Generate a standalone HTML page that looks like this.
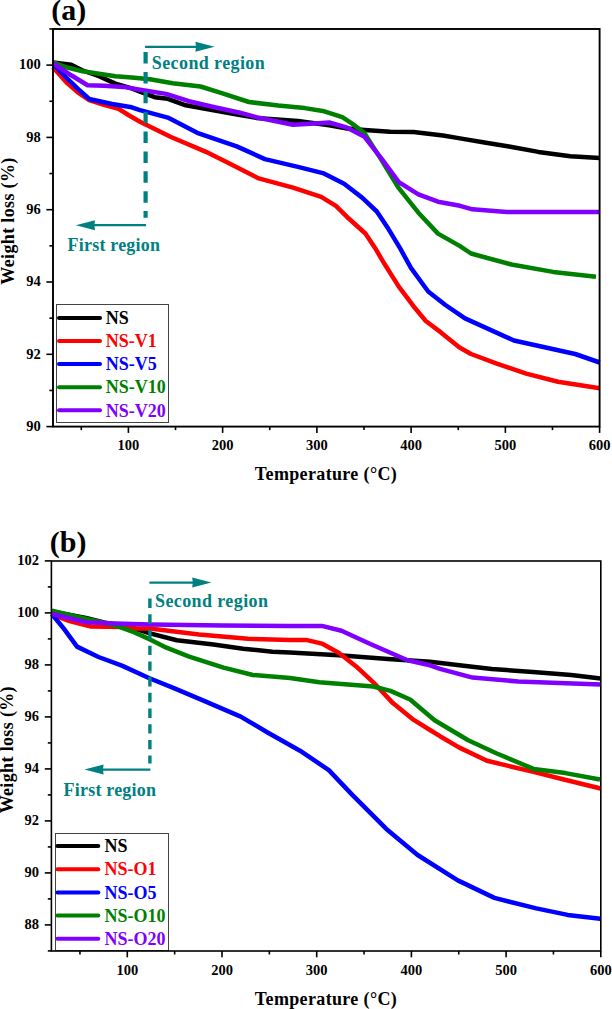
<!DOCTYPE html>
<html><head><meta charset="utf-8"><style>
html,body{margin:0;padding:0;background:#fff;width:612px;height:1009px;overflow:hidden}
svg{display:block}
text{font-family:"Liberation Serif", serif;font-weight:bold}
.tk{font-size:14.5px;fill:#000}
.ax{font-size:18px;fill:#000;letter-spacing:0.35px}
.lg{font-size:18px}
.an{font-size:18px;fill:#008080;letter-spacing:0.2px}
.pl{font-size:30px;fill:#000}
</style></head><body>
<svg width="612" height="1009" viewBox="0 0 612 1009">
<rect width="612" height="1009" fill="#fff"/>
<text x="51.3" y="20" class="pl">(a)</text>
<polyline points="53,62.4 71.2,64.8 82.7,70.5 99,76.2 115.4,83.6 131.7,88.3 140,91.6 154.7,97.2 167.8,98.8 185.8,105.3 213.5,110.2 240,115.1 256.3,117.9 297.9,121.1 329.2,125.2 347.2,128.5 364.5,129.9 390,131.8 413.5,131.9 443,135.5 460,138.4 484.5,142.5 509,146.5 538.4,151.9 570.3,156.3 599.7,158" fill="none" stroke="#000000" stroke-width="4.5" stroke-linejoin="round" stroke-linecap="butt"/>
<polyline points="53,67.2 66.3,82.2 77.8,92.4 89.2,100.2 103.9,104.8 118.6,108.9 128.4,115 140,121.7 171,137 205.4,151.6 225,161.3 258.7,178.4 293,187.7 321.2,196.8 335.9,205.8 349,218.8 365.4,233.5 375.2,248.2 384.1,263.3 398.8,286.6 413.5,306.2 425.8,321 440.9,332.4 459.2,347.3 471,354 496.8,363.6 526.2,373.6 558,381.7 599.7,388.3" fill="none" stroke="#ff0000" stroke-width="4.5" stroke-linejoin="round" stroke-linecap="butt"/>
<polyline points="53,64 67.8,79 78,88.8 89.2,99 112.1,104 131.7,107.3 140,110.2 167.8,117.6 197.2,132.8 236.7,146.4 264.9,159.1 297.9,166.9 322.9,173.1 344.1,183.7 362.1,197.6 376.8,211.5 388.2,228.6 400,248.2 411.1,268.2 428.2,291.5 445.4,305 465,318.4 513.9,340.5 575.2,354 599.7,362.5" fill="none" stroke="#0000ff" stroke-width="4.5" stroke-linejoin="round" stroke-linecap="butt"/>
<polyline points="53,62.4 66.3,67.3 82.7,71.3 99,73.8 115.4,76.2 131.7,77.4 150,79.2 172.7,83.3 200.5,86.5 221.7,93.1 248.9,102 278.3,105.6 304.7,108.1 324.3,111.3 342.3,117.1 352.1,123.6 364.5,133.1 379.2,156.4 398.8,188.2 418.4,212.7 438,233.6 460,246.1 471,253.5 511.5,264.5 553.1,271.9 596,276.8" fill="none" stroke="#008000" stroke-width="4.5" stroke-linejoin="round" stroke-linecap="butt"/>
<polyline points="53,63.3 71.2,75.3 87.6,85.2 103.9,85.7 123.5,86.9 140,89.8 166.1,93.9 189,101.2 213.5,107 240,112.7 256.3,117.2 293,124.8 306.3,124.1 329.2,122.5 347.2,127.7 364.5,136.8 381.7,158.8 398.8,182.1 418.4,194.4 438,201.7 460,205.8 472.4,209.3 506.6,211.9 599.7,211.9" fill="none" stroke="#8000ff" stroke-width="4.5" stroke-linejoin="round" stroke-linecap="butt"/>
<line x1="145.6" y1="52.1" x2="145.6" y2="217.7" stroke="#008080" stroke-width="4.2" stroke-dasharray="11.5 8.37"/>
<line x1="145.1" y1="46.8" x2="199.6" y2="46.8" stroke="#008080" stroke-width="2.2"/>
<path d="M214.6,46.8 L195.4,41.8 L196.0,46.8 L195.4,51.8 Z" fill="#008080"/>
<line x1="146.1" y1="225.2" x2="90.8" y2="225.2" stroke="#008080" stroke-width="2.2"/>
<path d="M75.8,225.2 L95.0,220.2 L94.4,225.2 L95.0,230.2 Z" fill="#008080"/>
<text x="151.8" y="69" class="an" style="letter-spacing:0.4px">Second region</text>
<text x="67.6" y="251" class="an">First region</text>
<rect x="56.5" y="304.5" width="112" height="118" fill="#fff" stroke="#444" stroke-width="1"/>
<line x1="59" y1="317.90" x2="100" y2="317.90" stroke="#000000" stroke-width="4" stroke-linecap="round"/>
<text x="105.7" y="324.10" class="lg" fill="#000000">NS</text>
<line x1="59" y1="341.00" x2="100" y2="341.00" stroke="#ff0000" stroke-width="4" stroke-linecap="round"/>
<text x="105.7" y="347.20" class="lg" fill="#ff0000">NS-V1</text>
<line x1="59" y1="364.10" x2="100" y2="364.10" stroke="#0000ff" stroke-width="4" stroke-linecap="round"/>
<text x="105.7" y="370.30" class="lg" fill="#0000ff">NS-V5</text>
<line x1="59" y1="387.20" x2="100" y2="387.20" stroke="#008000" stroke-width="4" stroke-linecap="round"/>
<text x="105.7" y="393.40" class="lg" fill="#008000">NS-V10</text>
<line x1="59" y1="410.30" x2="100" y2="410.30" stroke="#8000ff" stroke-width="4" stroke-linecap="round"/>
<text x="105.7" y="416.50" class="lg" fill="#8000ff">NS-V20</text>
<rect x="53.0" y="29.0" width="546.60" height="397.60" fill="none" stroke="#000" stroke-width="1.9"/>
<line x1="81.28" y1="426.6" x2="81.28" y2="430.10" stroke="#000" stroke-width="1.6"/>
<line x1="128.40" y1="426.6" x2="128.40" y2="432.90" stroke="#000" stroke-width="1.6"/>
<line x1="175.52" y1="426.6" x2="175.52" y2="430.10" stroke="#000" stroke-width="1.6"/>
<line x1="222.64" y1="426.6" x2="222.64" y2="432.90" stroke="#000" stroke-width="1.6"/>
<line x1="269.76" y1="426.6" x2="269.76" y2="430.10" stroke="#000" stroke-width="1.6"/>
<line x1="316.88" y1="426.6" x2="316.88" y2="432.90" stroke="#000" stroke-width="1.6"/>
<line x1="364.00" y1="426.6" x2="364.00" y2="430.10" stroke="#000" stroke-width="1.6"/>
<line x1="411.12" y1="426.6" x2="411.12" y2="432.90" stroke="#000" stroke-width="1.6"/>
<line x1="458.24" y1="426.6" x2="458.24" y2="430.10" stroke="#000" stroke-width="1.6"/>
<line x1="505.36" y1="426.6" x2="505.36" y2="432.90" stroke="#000" stroke-width="1.6"/>
<line x1="552.48" y1="426.6" x2="552.48" y2="430.10" stroke="#000" stroke-width="1.6"/>
<line x1="599.60" y1="426.6" x2="599.60" y2="432.90" stroke="#000" stroke-width="1.6"/>
<text x="128.40" y="449.80" text-anchor="middle" class="tk">100</text>
<text x="222.64" y="449.80" text-anchor="middle" class="tk">200</text>
<text x="316.88" y="449.80" text-anchor="middle" class="tk">300</text>
<text x="411.12" y="449.80" text-anchor="middle" class="tk">400</text>
<text x="505.36" y="449.80" text-anchor="middle" class="tk">500</text>
<text x="599.60" y="449.80" text-anchor="middle" class="tk">600</text>
<line x1="46.40" y1="426.60" x2="53.0" y2="426.60" stroke="#000" stroke-width="1.6"/>
<line x1="46.40" y1="354.30" x2="53.0" y2="354.30" stroke="#000" stroke-width="1.6"/>
<line x1="46.40" y1="282.00" x2="53.0" y2="282.00" stroke="#000" stroke-width="1.6"/>
<line x1="46.40" y1="209.70" x2="53.0" y2="209.70" stroke="#000" stroke-width="1.6"/>
<line x1="46.40" y1="137.40" x2="53.0" y2="137.40" stroke="#000" stroke-width="1.6"/>
<line x1="46.40" y1="65.10" x2="53.0" y2="65.10" stroke="#000" stroke-width="1.6"/>
<line x1="49.40" y1="390.45" x2="53.0" y2="390.45" stroke="#000" stroke-width="1.6"/>
<line x1="49.40" y1="318.15" x2="53.0" y2="318.15" stroke="#000" stroke-width="1.6"/>
<line x1="49.40" y1="245.85" x2="53.0" y2="245.85" stroke="#000" stroke-width="1.6"/>
<line x1="49.40" y1="173.55" x2="53.0" y2="173.55" stroke="#000" stroke-width="1.6"/>
<line x1="49.40" y1="101.25" x2="53.0" y2="101.25" stroke="#000" stroke-width="1.6"/>
<line x1="49.40" y1="28.95" x2="53.0" y2="28.95" stroke="#000" stroke-width="1.6"/>
<text x="40.70" y="430.90" text-anchor="end" class="tk">90</text>
<text x="40.70" y="358.60" text-anchor="end" class="tk">92</text>
<text x="40.70" y="286.30" text-anchor="end" class="tk">94</text>
<text x="40.70" y="214.00" text-anchor="end" class="tk">96</text>
<text x="40.70" y="141.70" text-anchor="end" class="tk">98</text>
<text x="40.70" y="69.40" text-anchor="end" class="tk">100</text>
<text x="326" y="479.5" text-anchor="middle" class="ax">Temperature (°C)</text>
<text transform="translate(14.2,221) rotate(-90)" text-anchor="middle" class="ax">Weight loss (%)</text>
<text x="49.8" y="551.5" class="pl">(b)</text>
<polyline points="51.8,611.5 86,618 103.9,622.5 131.7,627.7 150,633.4 176.8,640.3 213.5,644.6 243.1,648.7 272.5,651.7 290,652.4 339,655.3 388,659 430,661.8 459.4,665.3 491.8,669.1 532.9,671.9 571.2,675 600.6,678.4" fill="none" stroke="#000000" stroke-width="4.5" stroke-linejoin="round" stroke-linecap="butt"/>
<polyline points="51.8,614.5 69.6,621.1 91,626.5 121.9,627 135,628.5 150,628.6 199,634.5 248,638.7 290,640.1 307.2,640.1 321.9,643.6 339,652.9 356.2,666.4 373.3,682.3 392.9,703.1 412.5,719.1 430,730 440,736.2 459.4,747.6 487,760.8 533.5,771.9 562.9,779.2 600.6,788.5" fill="none" stroke="#ff0000" stroke-width="4.5" stroke-linejoin="round" stroke-linecap="butt"/>
<polyline points="51.8,614 63.1,627.7 77,646.6 98.5,657 121.9,665.6 148.9,678 174.5,688.4 206.4,701.9 240.7,716.6 267.6,732.5 300,750.7 328.8,770.1 352.3,794.9 386.3,828.9 417.6,855 457.8,880.4 494.4,897.9 536.3,908.4 567.6,914.9 600.3,918.8" fill="none" stroke="#0000ff" stroke-width="4.5" stroke-linejoin="round" stroke-linecap="butt"/>
<polyline points="51.8,610.7 82.7,617.9 115.4,625.5 131.7,631.3 150,639.4 164.5,646.8 189.2,656.6 223.5,667.6 252.9,675 290,678.1 319.4,682.3 373.3,686.5 390.5,690.9 410.1,699.5 434.6,720.3 468.2,740.3 496.8,753.5 533.5,768.9 565.4,773.1 600,779.5" fill="none" stroke="#008000" stroke-width="4.5" stroke-linejoin="round" stroke-linecap="butt"/>
<polyline points="51.8,614 86,622.3 115.4,623.6 150,624.5 223.5,625.4 290,625.9 321.9,625.9 341.5,630.8 370.9,644.3 407.6,660.2 430,665.3 440,668.8 472.6,677.6 518.2,681.5 600.6,684.4" fill="none" stroke="#8000ff" stroke-width="4.5" stroke-linejoin="round" stroke-linecap="butt"/>
<line x1="149.9" y1="598.6" x2="149.9" y2="763.6" stroke="#008080" stroke-width="3.4" stroke-dasharray="9.4 6.3"/>
<line x1="149.4" y1="582.6" x2="196.4" y2="582.6" stroke="#008080" stroke-width="2.2"/>
<path d="M211.4,582.6 L192.20000000000002,577.6 L192.8,582.6 L192.20000000000002,587.6 Z" fill="#008080"/>
<line x1="150.4" y1="769.6" x2="99.4" y2="769.6" stroke="#008080" stroke-width="2.2"/>
<path d="M84.4,769.6 L103.60000000000001,764.6 L103.0,769.6 L103.60000000000001,774.6 Z" fill="#008080"/>
<text x="155" y="607" class="an" style="letter-spacing:0.4px">Second region</text>
<text x="63.6" y="796" class="an">First region</text>
<rect x="55.5" y="833.5" width="113" height="117" fill="#fff" stroke="#444" stroke-width="1"/>
<line x1="57.4" y1="846.00" x2="98.3" y2="846.00" stroke="#000000" stroke-width="4" stroke-linecap="round"/>
<text x="104.5" y="852.20" class="lg" fill="#000000">NS</text>
<line x1="57.4" y1="869.20" x2="98.3" y2="869.20" stroke="#ff0000" stroke-width="4" stroke-linecap="round"/>
<text x="104.5" y="875.40" class="lg" fill="#ff0000">NS-O1</text>
<line x1="57.4" y1="892.40" x2="98.3" y2="892.40" stroke="#0000ff" stroke-width="4" stroke-linecap="round"/>
<text x="104.5" y="898.60" class="lg" fill="#0000ff">NS-O5</text>
<line x1="57.4" y1="915.60" x2="98.3" y2="915.60" stroke="#008000" stroke-width="4" stroke-linecap="round"/>
<text x="104.5" y="921.80" class="lg" fill="#008000">NS-O10</text>
<line x1="57.4" y1="938.80" x2="98.3" y2="938.80" stroke="#8000ff" stroke-width="4" stroke-linecap="round"/>
<text x="104.5" y="945.00" class="lg" fill="#8000ff">NS-O20</text>
<rect x="51.4" y="561.0" width="549.40" height="390.00" fill="none" stroke="#000" stroke-width="1.6"/>
<line x1="79.95" y1="951.0" x2="79.95" y2="954.50" stroke="#000" stroke-width="1.6"/>
<line x1="127.30" y1="951.0" x2="127.30" y2="957.30" stroke="#000" stroke-width="1.6"/>
<line x1="174.65" y1="951.0" x2="174.65" y2="954.50" stroke="#000" stroke-width="1.6"/>
<line x1="222.00" y1="951.0" x2="222.00" y2="957.30" stroke="#000" stroke-width="1.6"/>
<line x1="269.35" y1="951.0" x2="269.35" y2="954.50" stroke="#000" stroke-width="1.6"/>
<line x1="316.70" y1="951.0" x2="316.70" y2="957.30" stroke="#000" stroke-width="1.6"/>
<line x1="364.05" y1="951.0" x2="364.05" y2="954.50" stroke="#000" stroke-width="1.6"/>
<line x1="411.40" y1="951.0" x2="411.40" y2="957.30" stroke="#000" stroke-width="1.6"/>
<line x1="458.75" y1="951.0" x2="458.75" y2="954.50" stroke="#000" stroke-width="1.6"/>
<line x1="506.10" y1="951.0" x2="506.10" y2="957.30" stroke="#000" stroke-width="1.6"/>
<line x1="553.45" y1="951.0" x2="553.45" y2="954.50" stroke="#000" stroke-width="1.6"/>
<line x1="600.80" y1="951.0" x2="600.80" y2="957.30" stroke="#000" stroke-width="1.6"/>
<text x="127.30" y="975.10" text-anchor="middle" class="tk">100</text>
<text x="222.00" y="975.10" text-anchor="middle" class="tk">200</text>
<text x="316.70" y="975.10" text-anchor="middle" class="tk">300</text>
<text x="411.40" y="975.10" text-anchor="middle" class="tk">400</text>
<text x="506.10" y="975.10" text-anchor="middle" class="tk">500</text>
<text x="600.80" y="975.10" text-anchor="middle" class="tk">600</text>
<line x1="44.80" y1="924.90" x2="51.4" y2="924.90" stroke="#000" stroke-width="1.6"/>
<line x1="44.80" y1="872.90" x2="51.4" y2="872.90" stroke="#000" stroke-width="1.6"/>
<line x1="44.80" y1="820.90" x2="51.4" y2="820.90" stroke="#000" stroke-width="1.6"/>
<line x1="44.80" y1="768.90" x2="51.4" y2="768.90" stroke="#000" stroke-width="1.6"/>
<line x1="44.80" y1="716.90" x2="51.4" y2="716.90" stroke="#000" stroke-width="1.6"/>
<line x1="44.80" y1="664.90" x2="51.4" y2="664.90" stroke="#000" stroke-width="1.6"/>
<line x1="44.80" y1="612.90" x2="51.4" y2="612.90" stroke="#000" stroke-width="1.6"/>
<line x1="44.80" y1="560.90" x2="51.4" y2="560.90" stroke="#000" stroke-width="1.6"/>
<line x1="47.80" y1="950.90" x2="51.4" y2="950.90" stroke="#000" stroke-width="1.6"/>
<line x1="47.80" y1="898.90" x2="51.4" y2="898.90" stroke="#000" stroke-width="1.6"/>
<line x1="47.80" y1="846.90" x2="51.4" y2="846.90" stroke="#000" stroke-width="1.6"/>
<line x1="47.80" y1="794.90" x2="51.4" y2="794.90" stroke="#000" stroke-width="1.6"/>
<line x1="47.80" y1="742.90" x2="51.4" y2="742.90" stroke="#000" stroke-width="1.6"/>
<line x1="47.80" y1="690.90" x2="51.4" y2="690.90" stroke="#000" stroke-width="1.6"/>
<line x1="47.80" y1="638.90" x2="51.4" y2="638.90" stroke="#000" stroke-width="1.6"/>
<line x1="47.80" y1="586.90" x2="51.4" y2="586.90" stroke="#000" stroke-width="1.6"/>
<text x="39.10" y="929.20" text-anchor="end" class="tk">88</text>
<text x="39.10" y="877.20" text-anchor="end" class="tk">90</text>
<text x="39.10" y="825.20" text-anchor="end" class="tk">92</text>
<text x="39.10" y="773.20" text-anchor="end" class="tk">94</text>
<text x="39.10" y="721.20" text-anchor="end" class="tk">96</text>
<text x="39.10" y="669.20" text-anchor="end" class="tk">98</text>
<text x="39.10" y="617.20" text-anchor="end" class="tk">100</text>
<text x="39.10" y="565.20" text-anchor="end" class="tk">102</text>
<text x="326" y="1005.3" text-anchor="middle" class="ax">Temperature (°C)</text>
<text transform="translate(13.4,749.7) rotate(-90)" text-anchor="middle" class="ax">Weight loss (%)</text>
</svg>
</body></html>
